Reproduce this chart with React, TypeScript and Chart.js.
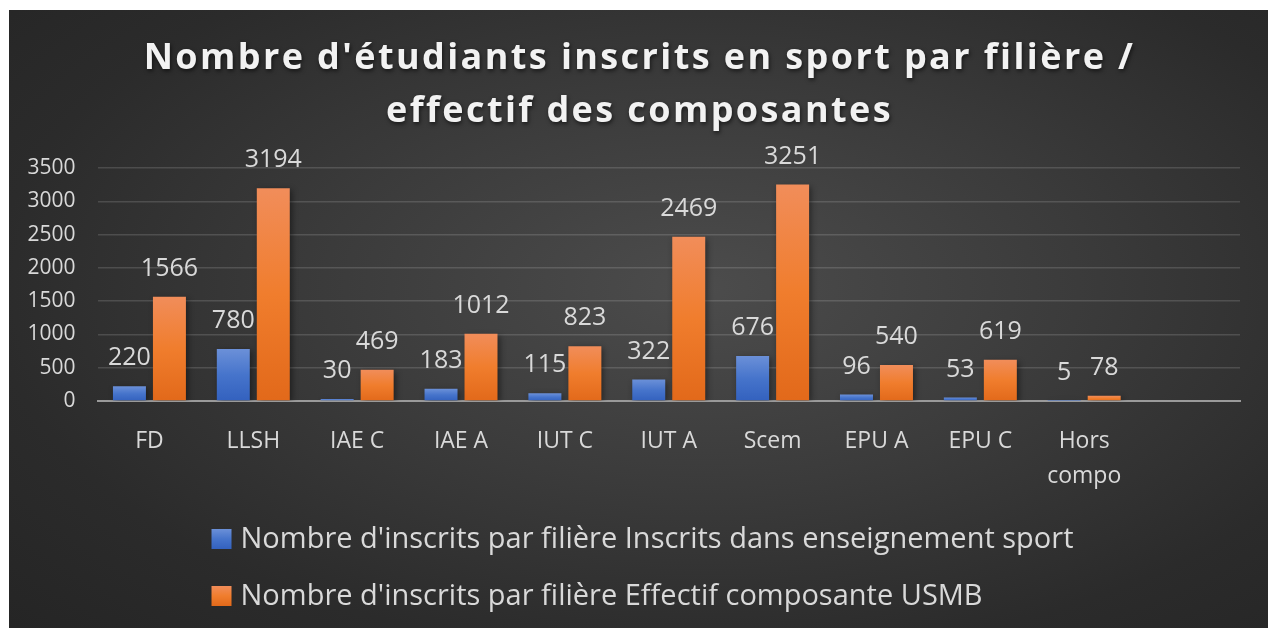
import React, { useEffect, useRef } from "react";
import { Chart, registerables } from "chart.js";

Chart.register(...registerables);

const categories: (string | string[])[] = ["FD", "LLSH", "IAE C", "IAE A", "IUT C", "IUT A", "Scem", "EPU A", "EPU C", ["Hors", "compo"], ""];
const sportValues: (number | null)[] = [220, 780, 30, 183, 115, 322, 676, 96, 53, 5, null];
const effectifValues: (number | null)[] = [1566, 3194, 469, 1012, 823, 2469, 3251, 540, 619, 78, null];
const seriesNames = [
  "Nombre d'inscrits par filière Inscrits dans enseignement sport",
  "Nombre d'inscrits par filière Effectif composante USMB",
];
const titleLines = ["Nombre d'étudiants inscrits en sport par filière /", "effectif des composantes"];
const yMin = 0;
const yMax = 3500;
const yStep = 500;

const W = 1259;
const H = 618;
const FONT = "'Open Sans', 'DejaVu Sans', sans-serif";
const TEXT = "#d9d9d9";

const blueStops = ["#6b90d8", "#4674cb", "#3361be"];
const orangeStops = ["#f18d5a", "#f07d2d", "#e2691a"];

function makeGrad(ctx: CanvasRenderingContext2D, top: number, bottom: number, stops: string[]) {
  const g = ctx.createLinearGradient(0, top, 0, bottom);
  g.addColorStop(0, stops[0]);
  g.addColorStop(0.5, stops[1]);
  g.addColorStop(1, stops[2]);
  return g;
}

const barBg = (stops: string[]) => (c: any) => {
  const chart = c.chart;
  if (c.type !== "data" || !chart.chartArea || !chart.scales || !chart.scales.y) return stops[1];
  const y = chart.scales.y;
  const top = y.getPixelForValue(c.raw);
  const base = y.getPixelForValue(0);
  if (!isFinite(top) || base - top < 0.5) return stops[1];
  return makeGrad(chart.ctx, top, base, stops);
};

const textPlugin = {
  id: "customText",
  beforeDatasetsDraw(chart: any) {
    const ctx = chart.ctx;
    ctx.save();
    ctx.shadowColor = "rgba(0,0,0,0.45)";
    ctx.shadowBlur = 6;
    ctx.shadowOffsetX = 2;
    ctx.shadowOffsetY = 2;
  },
  afterDatasetsDraw(chart: any) {
    const ctx = chart.ctx;
    ctx.restore();
    // data labels
    ctx.save();
    ctx.font = `25px ${FONT}`;
    ctx.fillStyle = TEXT;
    ctx.textAlign = "center";
    ctx.textBaseline = "middle";
    chart.data.datasets.forEach((ds: any, di: number) => {
      const meta = chart.getDatasetMeta(di);
      meta.data.forEach((el: any, i: number) => {
        const v = ds.data[i];
        if (v === null || v === undefined) return;
        ctx.fillText(String(v), el.x, el.y - 28);
      });
    });
    ctx.restore();
  },
  afterDraw(chart: any) {
    const ctx = chart.ctx;
    const cw = chart.width;
    // title
    ctx.save();
    ctx.font = `bold 36px ${FONT}`;
    (ctx as any).letterSpacing = "2.4px";
    ctx.fillStyle = "#f2f2f2";
    ctx.textAlign = "center";
    ctx.textBaseline = "middle";
    ctx.shadowColor = "rgba(0,0,0,0.6)";
    ctx.shadowBlur = 4;
    ctx.shadowOffsetX = 1;
    ctx.shadowOffsetY = 2;
    titleLines.forEach((line, i) => ctx.fillText(line, cw / 2 + 1, 49 + i * 53));
    ctx.restore();

    // legend
    ctx.save();
    ctx.font = `29px ${FONT}`;
    ctx.textBaseline = "middle";
    ctx.textAlign = "left";
    const box = 20;
    const gap = 9;
    const maxW = Math.max(...seriesNames.map((s) => ctx.measureText(s).width));
    const x0 = (cw - (box + gap + maxW)) / 2 + 4;
    const rows = [529, 586];
    const stopsArr = [blueStops, orangeStops];
    seriesNames.forEach((name, i) => {
      const cy = rows[i];
      ctx.fillStyle = makeGrad(ctx, cy - box / 2, cy + box / 2, stopsArr[i]);
      ctx.fillRect(x0, cy - box / 2, box, box);
      ctx.fillStyle = TEXT;
      ctx.fillText(name, x0 + box + gap, cy + 1);
    });
    ctx.restore();
  },
};

export default function App() {
  const ref = useRef<HTMLCanvasElement | null>(null);

  useEffect(() => {
    if (!ref.current) return;
    const yTickValues: number[] = [];
    for (let v = yMin; v <= yMax; v += yStep) yTickValues.push(v);

    const chart = new Chart(ref.current, {
      type: "bar",
      data: {
        labels: categories as any,
        datasets: [
          {
            label: seriesNames[0],
            data: sportValues,
            backgroundColor: barBg(blueStops) as any,
            borderWidth: 0,
            categoryPercentage: 0.77,
            barPercentage: 0.825,
          },
          {
            label: seriesNames[1],
            data: effectifValues,
            backgroundColor: barBg(orangeStops) as any,
            borderWidth: 0,
            categoryPercentage: 0.77,
            barPercentage: 0.825,
          },
        ],
      },
      options: {
        responsive: false,
        animation: false,
        events: [],
        layout: { padding: { top: 158, right: 28, bottom: 127, left: 0 } },
        plugins: {
          legend: { display: false },
          title: { display: false },
          tooltip: { enabled: false },
        },
        scales: {
          x: {
            grid: { display: false, drawTicks: false },
            border: { display: true, color: "#9a9a9a", width: 2 },
            ticks: {
              color: TEXT,
              font: { family: FONT, size: 23, lineHeight: 1.52 },
              padding: 23,
              maxRotation: 0,
              autoSkip: false,
            },
            afterFit: (s: any) => {
              s.height = 100;
            },
          },
          y: {
            min: yMin,
            max: yMax,
            afterBuildTicks: (s: any) => {
              s.ticks = yTickValues.map((v) => ({ value: v }));
            },
            grid: { color: "rgba(255,255,255,0.14)", lineWidth: 1.5, drawTicks: false },
            border: { display: false },
            ticks: {
              color: TEXT,
              font: { family: FONT, size: 21 },
              padding: 22,
              callback: (v: any) => String(v),
            },
            afterFit: (s: any) => {
              s.width = 88.5;
            },
          },
        },
      },
      plugins: [textPlugin],
    });
    return () => chart.destroy();
  }, []);

  return (
    <div
      style={{
        position: "absolute",
        left: 9,
        top: 10,
        width: W,
        height: H,
        background: "radial-gradient(ellipse 75% 80% at 55% 45%, #4c4c4c 0%, #3b3b3b 40%, #2b2b2b 75%, #252525 100%)",
      }}
    >
      <canvas ref={ref} width={W} height={H} style={{ display: "block", width: W, height: H }} />
    </div>
  );
}
